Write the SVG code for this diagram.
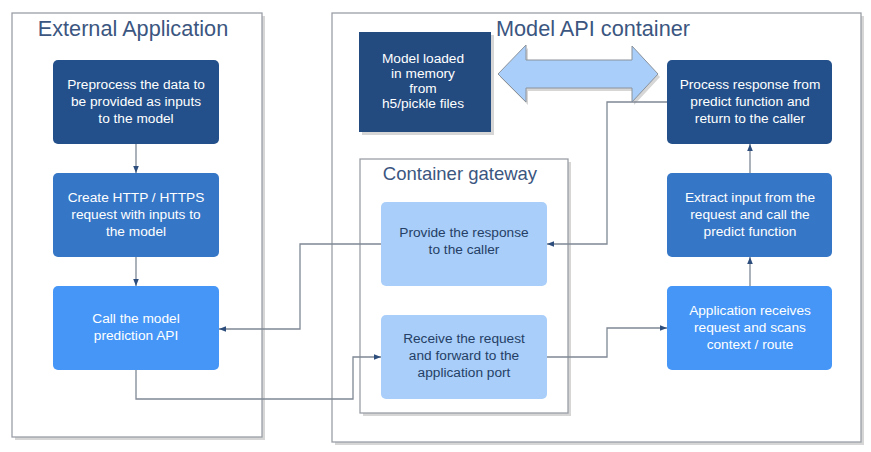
<svg xmlns="http://www.w3.org/2000/svg" width="871" height="452" viewBox="0 0 871 452">
<style>
.cont{fill:#fff;stroke:#9a9fa6;stroke-width:1.3}
.shadow{fill:#d6d6d6}
.title{font-family:"Liberation Sans",Arial,sans-serif;fill:#3b5680;text-anchor:middle}
.t{font-family:"Liberation Sans",Arial,sans-serif;font-size:13.7px;text-anchor:middle;fill:#ffffff}
.td{font-family:"Liberation Sans",Arial,sans-serif;font-size:13.7px;text-anchor:middle;fill:#253f66}
.dark{fill:#23508a}
.mid{fill:#3576c6}
.bright{fill:#4596f6}
.light{fill:#a9cef9}
.conn{fill:none;stroke:#7f8894;stroke-width:1.3}
</style>
<defs>
<marker id="arr" viewBox="0 0 10 10" refX="10" refY="5" markerWidth="7" markerHeight="7" orient="auto" markerUnits="userSpaceOnUse">
<path d="M0,1 L10,5 L0,9 Z" fill="#2d4d7c"/>
</marker>
</defs>
<rect width="871" height="452" fill="#ffffff"/>

<g id="external-application">
<rect class="shadow" x="15" y="16" width="250" height="424"/>
<rect class="cont" x="12" y="13" width="250" height="424"/>
<text class="title" x="133" y="36" font-size="21.7">External Application</text>
</g>

<g id="model-api-container">
<rect class="shadow" x="335" y="16" width="529" height="429"/>
<rect class="cont" x="332" y="13" width="529" height="429"/>
<text class="title" x="593" y="36" font-size="21.7">Model API container</text>
</g>

<g id="container-gateway">
<rect class="shadow" x="363" y="162" width="208" height="254"/>
<rect class="cont" x="360" y="159" width="208" height="254"/>
<text class="title" x="460" y="180" font-size="18.5">Container gateway</text>
</g>

<g id="preprocess">
<rect class="dark" x="53" y="60" width="166" height="84" rx="5"/>
<text class="t" x="136" y="89">Preprocess the data to</text>
<text class="t" x="136" y="106">be provided as inputs</text>
<text class="t" x="136" y="123">to the model</text>
</g>

<g id="create-request">
<rect class="mid" x="53" y="173" width="166" height="84" rx="5"/>
<text class="t" x="136" y="202">Create HTTP / HTTPS</text>
<text class="t" x="136" y="219">request with inputs to</text>
<text class="t" x="136" y="236">the model</text>
</g>

<g id="call-api">
<rect class="bright" x="53" y="286" width="166" height="84" rx="5"/>
<text class="t" x="136" y="323">Call the model</text>
<text class="t" x="136" y="340">prediction API</text>
</g>

<g id="model-loaded">
<rect class="shadow" x="362" y="35" width="132" height="100"/>
<rect x="359" y="32" width="132" height="100" fill="#234b7f"/>
<text class="t" x="423" y="63" font-size="11.3">Model loaded</text>
<text class="t" x="423" y="78" font-size="11.3"> in memory</text>
<text class="t" x="423" y="93" font-size="11.3">from</text>
<text class="t" x="423" y="108" font-size="11.3">h5/pickle files</text>
</g>

<g id="double-arrow">
<path d="M500,77 L528,48 L528,63 L634,63 L634,49 L660,77 L634,105 L634,91 L528,91 L528,105 Z" fill="#d6d6d6"/>
<path d="M498,74 L526,45 L526,60 L632,60 L632,46 L658,74 L632,102 L632,88 L526,88 L526,102 Z" fill="#a9cef9" stroke="#8a929c" stroke-width="1"/>
</g>

<g id="process-response">
<rect class="dark" x="667" y="60" width="165" height="84" rx="5"/>
<text class="t" x="750" y="89">Process response from</text>
<text class="t" x="750" y="106">predict function and</text>
<text class="t" x="750" y="123">return to the caller</text>
</g>

<g id="extract-input">
<rect class="mid" x="667" y="173" width="165" height="84" rx="5"/>
<text class="t" x="750" y="202">Extract input from the</text>
<text class="t" x="750" y="219">request and call the</text>
<text class="t" x="750" y="236">predict function</text>
</g>

<g id="app-receives">
<rect class="bright" x="667" y="286" width="165" height="84" rx="5"/>
<text class="t" x="750" y="315">Application receives</text>
<text class="t" x="750" y="332">request and scans</text>
<text class="t" x="750" y="349">context / route</text>
</g>

<g id="provide-response">
<rect class="light" x="381" y="202" width="166" height="84" rx="5"/>
<text class="td" x="464" y="237">Provide the response</text>
<text class="td" x="464" y="254">to the caller</text>
</g>

<g id="receive-request">
<rect class="light" x="381" y="315" width="166" height="84" rx="5"/>
<text class="td" x="464" y="343">Receive the request</text>
<text class="td" x="464" y="360">and forward to the</text>
<text class="td" x="464" y="377">application port</text>
</g>

<g id="connectors">
<path class="conn" d="M136,144 V173" marker-end="url(#arr)"/>
<path class="conn" d="M136,257 V286" marker-end="url(#arr)"/>
<path class="conn" d="M136,370 V399 H353 V357 H381" marker-end="url(#arr)"/>
<path class="conn" d="M547,357 H607 V328 H667" marker-end="url(#arr)"/>
<path class="conn" d="M750,286 V257" marker-end="url(#arr)"/>
<path class="conn" d="M750,173 V144" marker-end="url(#arr)"/>
<path class="conn" d="M667,102 H607 V244 H547" marker-end="url(#arr)"/>
<path class="conn" d="M381,244 H300 V329 H219" marker-end="url(#arr)"/>
</g>
</svg>
